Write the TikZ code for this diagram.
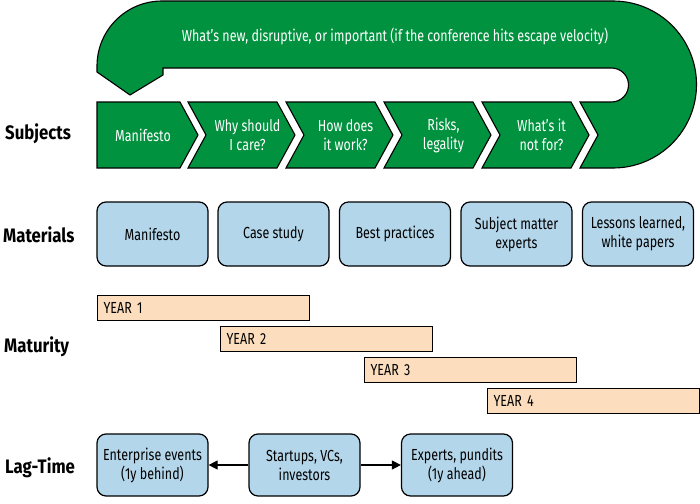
\documentclass[tikz,border=0pt]{standalone}
\usepackage{fontspec}
\setmainfont{Fira Sans}[FakeStretch=0.78]
\newfontfamily\lblfont{Fira Sans}[FakeStretch=0.86]
\usetikzlibrary{arrows.meta}
\definecolor{grn}{RGB}{0,146,63}
\definecolor{lblue}{RGB}{180,214,234}
\definecolor{peach}{RGB}{252,222,190}
\tikzset{
 greenshape/.style={fill=grn, draw=black, line width=1.1pt, line join=miter},
 chevtext/.style={text=white, font=\fontsize{16}{19}\selectfont, align=center},
 rowlabel/.style={font=\lblfont\bfseries\fontsize{19.5}{22}\selectfont, anchor=west, inner sep=0pt},
 bluebox/.style={rounded corners=9pt, fill=lblue, draw=black, line width=1.2pt, minimum width=111pt, minimum height=64pt, align=center, font=\fontsize{16}{19}\selectfont, inner sep=2pt},
 lagbox/.style={bluebox, minimum height=62pt},
 yearbox/.style={fill=peach, draw=black, line width=1.2pt, text width=200pt, align=left, inner xsep=6pt, inner ysep=0pt, minimum height=25pt, anchor=north west, font=\fontsize{16}{18}\selectfont},
 lagarrow/.style={-{Triangle[length=9pt,width=9pt]}, line width=1.2pt}
}
\begin{document}
\begin{tikzpicture}[x=1pt,y=-1pt]
\useasboundingbox (0,0) rectangle (700,503);
% big loop shape
\path[greenshape] (613,168) arc[start angle=90,end angle=-90,radius=83.5]
  -- (162,1) arc[start angle=-90,end angle=-180,radius=65]
  -- (97,72) -- (130,95) -- (163,75) -- (163,68) -- (611.5,68)
  arc[start angle=-90,end angle=90,radius=17]
  -- (580,102) -- (598,135) -- (580,168) -- cycle;
% chevrons
\path[greenshape] (97,102) -- (180,102) -- (198,135) -- (180,168) -- (97,168) -- cycle;
\foreach \x in {188,286,384,482}{
  \path[greenshape] (\x,102) -- ({\x+89},102) -- ({\x+107},135) -- ({\x+89},168) -- (\x,168) -- ({\x+18},135) -- cycle;
}
\node[chevtext] (title) at (395,36) {What’s new, disruptive, or important (if the conference hits escape velocity)};
\node[chevtext] (c1) at (143,135) {Manifesto};
\node[chevtext] (c2) at (247.5,135) {Why should\\I care?};
\node[chevtext] (c3) at (345.5,135) {How does\\it work?};
\node[chevtext] (c4) at (443.5,135) {Risks,\\legality};
\node[chevtext] (c5) at (541.5,135) {What’s it\\not for?};
% row labels
\node[rowlabel] (lsub) at (5,134) {Subjects};
\node[rowlabel] (lmat) at (3,235) {Materials};
\node[rowlabel] (lmatu) at (4,347) {Maturity};
\node[rowlabel] (llag) at (5,468) {Lag-Time};
% materials
\node[bluebox] (m1) at (152.5,234) {Manifesto};
\node[bluebox] (m2) at (273.5,234) {Case study};
\node[bluebox] (m3) at (395,234) {Best practices};
\node[bluebox] (m4) at (516.5,234) {Subject matter\\experts};
\node[bluebox] (m5) at (638,234) {Lessons learned,\\white papers};
% maturity
\node[yearbox] (y1) at (97,295) {YEAR 1};
\node[yearbox] (y2) at (220,326) {YEAR 2};
\node[yearbox] (y3) at (364,357) {YEAR 3};
\node[yearbox] (y4) at (487,388) {YEAR 4};
% lag-time
\node[lagbox] (l1) at (152.5,465) {Enterprise events\\(1y behind)};
\node[lagbox] (l2) at (304.5,465) {Startups, VCs,\\investors};
\node[lagbox] (l3) at (457,465) {Experts, pundits\\(1y ahead)};
\draw[lagarrow] (l2) -- (l1);
\draw[lagarrow] (l2) -- (l3);
\end{tikzpicture}
\end{document}
